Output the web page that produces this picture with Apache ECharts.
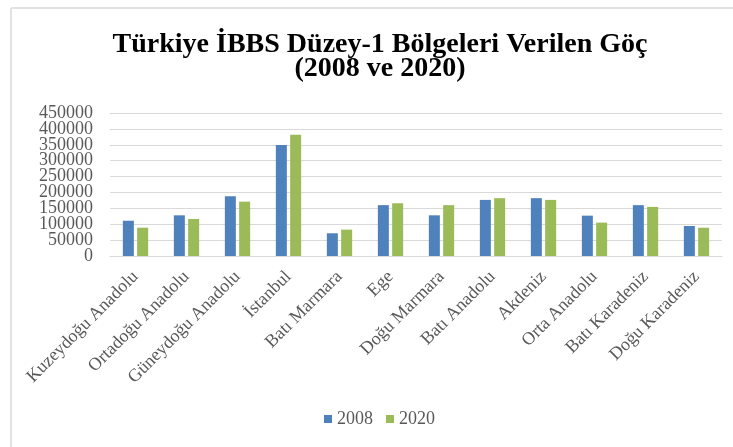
<!DOCTYPE html>
<html>
<head>
<meta charset="utf-8">
<script src="https://cdn.jsdelivr.net/npm/echarts@6/dist/echarts.min.js"></script>
<style>
  html, body { margin: 0; padding: 0; background: #fff; }
  #chart { width: 733px; height: 447px; }
</style>
</head>
<body>
<div id="chart"></div>
<script>
// regions (IBBS level-1)
const regions = [
  'Kuzeydoğu Anadolu', 'Ortadoğu Anadolu', 'Güneydoğu Anadolu', 'İstanbul',
  'Batı Marmara', 'Ege', 'Doğu Marmara', 'Batı Anadolu', 'Akdeniz',
  'Orta Anadolu', 'Batı Karadeniz', 'Doğu Karadeniz'
];
// out-migration values
const values2008 = [111000, 128000, 188000, 349000, 71500, 160000, 128000, 176500, 182000, 127000, 160000, 94500];
const values2020 = [89000, 116500, 171000, 381500, 83000, 166000, 160000, 182000, 176500, 105000, 154500, 89000];
const yTicks = { min: 0, max: 450000, step: 50000 };

const serif = '"Liberation Serif", "DejaVu Serif", serif';
const labelGray = '#595959';
const lineGray = '#D9D9D9';

const chart = echarts.init(document.getElementById('chart'));

// the tick labels overlap in the original; echarts drops some of them,
// so split them over two stacked axes (even / odd steps)
function yAxisFor(odd) {
  return {
    type: 'value',
    position: 'left',
    min: yTicks.min,
    max: yTicks.max,
    interval: yTicks.step,
    axisLine: { show: false },
    axisTick: { show: false },
    axisLabel: {
      margin: 17,
      showMinLabel: true,
      showMaxLabel: true,
      fontFamily: serif,
      fontSize: 18,
      color: labelGray,
      formatter: (v) => ((v / yTicks.step) % 2 === (odd ? 1 : 0) ? String(v) : '')
    },
    splitLine: { show: !odd, lineStyle: { color: lineGray, width: 1 } }
  };
}

chart.setOption({
  animation: false,
  backgroundColor: '#fff',
  title: {
    text: 'Türkiye İBBS Düzey-1 Bölgeleri Verilen Göç\n(2008 ve 2020)',
    left: 380,
    top: 33,
    padding: 0,
    textAlign: 'center',
    textStyle: {
      fontFamily: serif,
      fontWeight: 'bold',
      fontSize: 28,
      lineHeight: 24,
      color: '#000'
    }
  },
  legend: {
    data: ['2008', '2020'],
    left: 324,
    top: 410,
    padding: 0,
    itemWidth: 8,
    itemHeight: 8,
    itemGap: 13,
    icon: 'rect',
    textStyle: { fontFamily: serif, fontSize: 18, color: labelGray }
  },
  grid: { left: 110, right: 11, top: 113, bottom: 191, containLabel: false },
  xAxis: {
    type: 'category',
    data: regions,
    axisLine: { lineStyle: { color: lineGray, width: 1 } },
    axisTick: { show: false },
    axisLabel: {
      interval: 0,
      rotate: 45,
      margin: 18,
      fontFamily: serif,
      fontSize: 18,
      color: labelGray
    }
  },
  yAxis: [yAxisFor(false), yAxisFor(true)],
  series: [
    {
      name: '2008',
      type: 'bar',
      data: values2008,
      barWidth: 11,
      barGap: '30%',
      itemStyle: { color: '#4F81BD' }
    },
    {
      name: '2020',
      type: 'bar',
      data: values2020,
      barWidth: 11,
      itemStyle: { color: '#9BBB59' }
    }
  ],
  graphic: [
    // chart frame: only top and left edges are visible in the crop
    { type: 'line', shape: { x1: 11, y1: 8, x2: 733, y2: 8 }, style: { stroke: lineGray, lineWidth: 1.5 } },
    { type: 'line', shape: { x1: 11, y1: 8, x2: 11, y2: 447 }, style: { stroke: lineGray, lineWidth: 1.5 } }
  ]
});
</script>
</body>
</html>
